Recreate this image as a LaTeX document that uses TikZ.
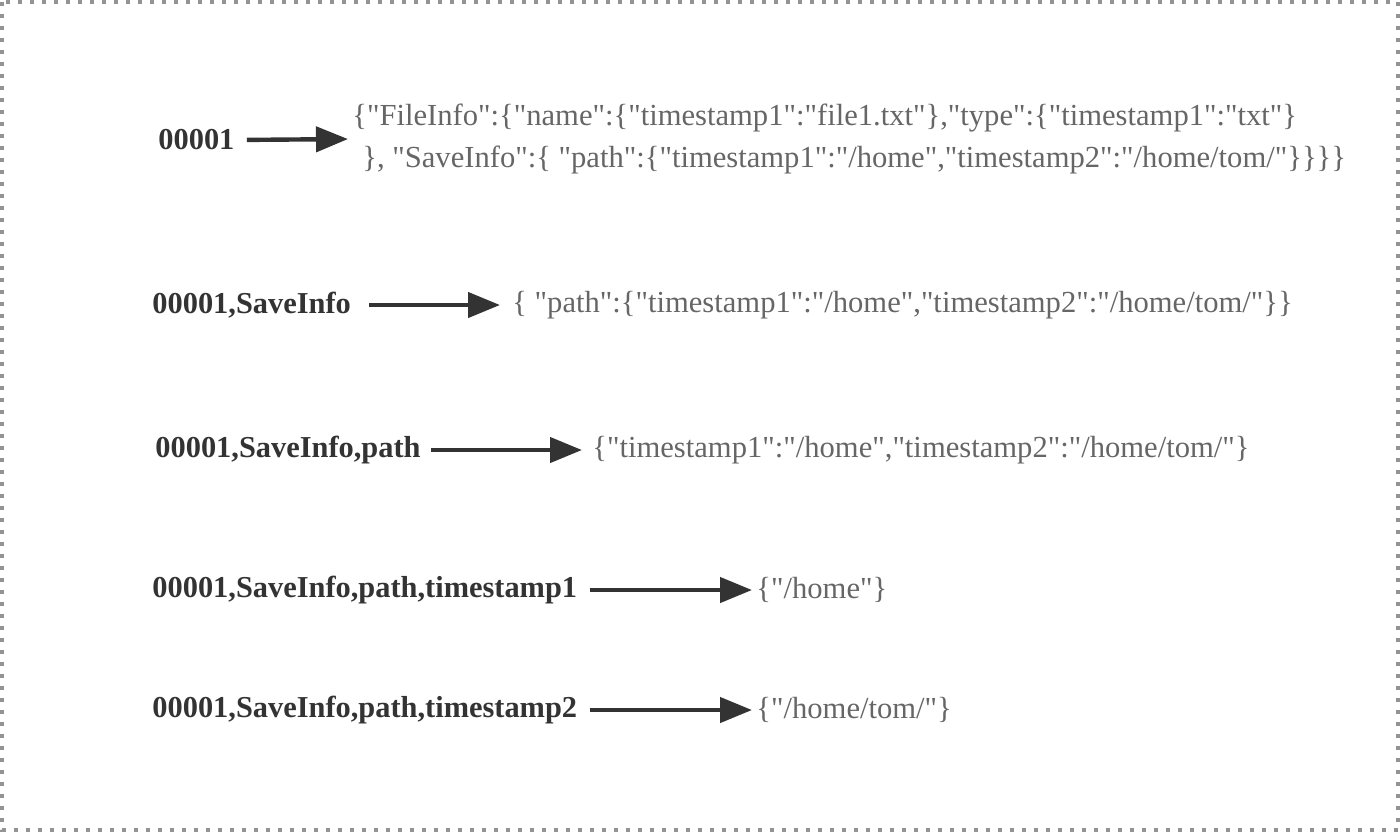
\documentclass[tikz,border=0pt]{standalone}
\usepackage{fontspec}
\setmainfont{Liberation Serif}[Ligatures=TeXOff]
\usepackage{xcolor}
\usetikzlibrary{arrows.meta,positioning}

\definecolor{keygray}{HTML}{333333}
\definecolor{valgray}{HTML}{666666}

\begin{document}
\begin{tikzpicture}[
  x=0.5pt, y=-0.5pt,
  key/.style={anchor=west, inner sep=0pt, text=keygray,
              font=\fontsize{15.2}{21}\selectfont\bfseries},
  val/.style={anchor=west, inner sep=0pt, text=valgray, align=left,
              font=\fontsize{15.3}{21}\selectfont},
  link/.style={draw=keygray, line width=2.2pt,
               -{Triangle[length=16pt, width=12.5pt]}},
  frame/.style={draw=gray!85, line width=2pt,
                dash pattern=on 2pt off 4pt},
]
  \useasboundingbox (0,0) rectangle (1400,832);
  \draw[frame] (2,2) rectangle (1398,830);

  % keys
  \node[key] (k1) at (158,140) {00001};
  \node[key] (k2) at (152,305) {00001,SaveInfo};
  \node[key] (k3) at (155,450) {00001,SaveInfo,path};
  \node[key] (k4) at (152,590) {00001,SaveInfo,path,timestamp1};
  \node[key] (k5) at (152,710) {00001,SaveInfo,path,timestamp2};

  % values
  \node[val] (v1) at (352,139)
    {\{"FileInfo":\{"name":\{"timestamp1":"file1.txt"\},"type":\{"timestamp1":"txt"\}\\
     \hspace{5pt}\}, "SaveInfo":\{ "path":\{"timestamp1":"/home","timestamp2":"/home/tom/"\}\}\}\}};
  \node[val] (v2) at (512,305) {\{ "path":\{"timestamp1":"/home","timestamp2":"/home/tom/"\}\}};
  \node[val] (v3) at (592,450) {\{"timestamp1":"/home","timestamp2":"/home/tom/"\}};
  \node[val] (v4) at (756,590) {\{"/home"\}};
  \node[val] (v5) at (756,710) {\{"/home/tom/"\}};

  \draw[link, shorten <=6pt, shorten >=2pt] (k1.east) -- (v1.west);
  \draw[link, shorten <=9pt, shorten >=6pt] (k2.east) -- (v2.west);
  \draw[link, shorten <=5pt, shorten >=5pt] (k3.east) -- (v3.west);
  \draw[link, shorten <=6pt, shorten >=2pt] (k4.east) -- (v4.west);
  \draw[link, shorten <=6pt, shorten >=2pt] (k5.east) -- (v5.west);
\end{tikzpicture}
\end{document}
